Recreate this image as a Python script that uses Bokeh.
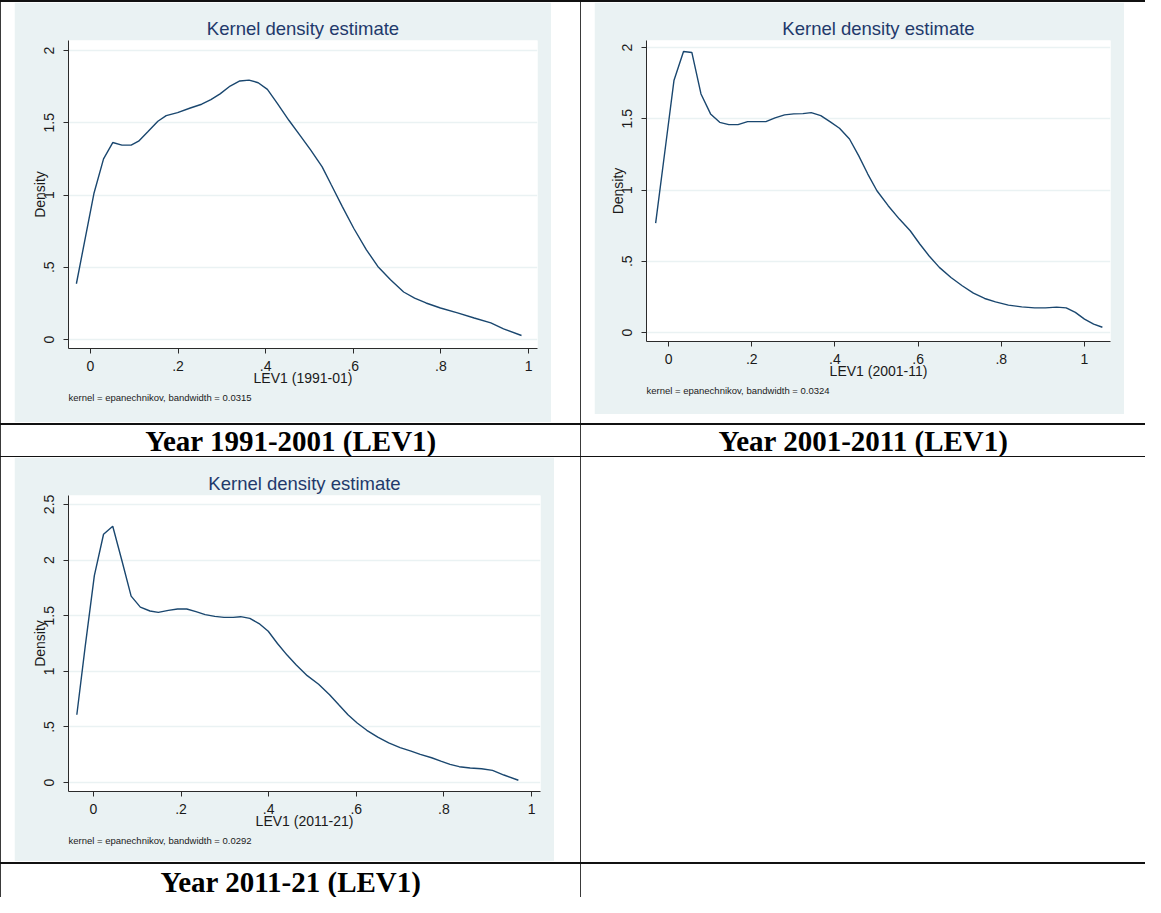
from bokeh.plotting import figure
from bokeh.layouts import row, column
from bokeh.models import Range1d, FixedTicker, CustomJSTickFormatter, Title, Spacer
from bokeh.core.properties import value
from bokeh.embed import file_html
from bokeh.resources import INLINE

# ---------------- data ----------------
x_ticks = [0, 0.2, 0.4, 0.6, 0.8, 1]
y_ticks_a = [0, 0.5, 1, 1.5, 2]
y_ticks_b = [0, 0.5, 1, 1.5, 2, 2.5]

lev_9101_x = [-0.032, 0.008, 0.030, 0.051, 0.072, 0.093, 0.110, 0.131, 0.154, 0.173, 0.199,
              0.228, 0.254, 0.275, 0.296, 0.319, 0.341, 0.362, 0.383, 0.404, 0.427, 0.453,
              0.478, 0.503, 0.529, 0.550, 0.575, 0.601, 0.630, 0.656, 0.685, 0.715, 0.740,
              0.766, 0.799, 0.838, 0.876, 0.914, 0.943, 0.984]
lev_9101_y = [0.386, 1.010, 1.250, 1.363, 1.345, 1.345, 1.372, 1.437, 1.510, 1.549, 1.570,
              1.602, 1.628, 1.660, 1.700, 1.754, 1.789, 1.795, 1.777, 1.731, 1.632, 1.517,
              1.414, 1.310, 1.195, 1.069, 0.920, 0.770, 0.621, 0.506, 0.414, 0.329, 0.287,
              0.253, 0.218, 0.184, 0.149, 0.115, 0.074, 0.028]

lev_0111_x = [-0.031, -0.006, 0.013, 0.036, 0.056, 0.078, 0.101, 0.123, 0.145, 0.167, 0.190,
              0.212, 0.234, 0.256, 0.279, 0.301, 0.323, 0.343, 0.366, 0.388, 0.411, 0.435,
              0.457, 0.479, 0.501, 0.528, 0.555, 0.581, 0.604, 0.626, 0.651, 0.679, 0.706,
              0.733, 0.760, 0.786, 0.817, 0.849, 0.880, 0.906, 0.933, 0.956, 0.978, 1.000,
              1.022, 1.043]
lev_0111_y = [0.768, 1.335, 1.768, 1.972, 1.965, 1.674, 1.534, 1.475, 1.459, 1.459, 1.480,
              1.480, 1.480, 1.506, 1.527, 1.534, 1.536, 1.543, 1.522, 1.480, 1.433, 1.358,
              1.241, 1.112, 0.995, 0.890, 0.796, 0.714, 0.621, 0.539, 0.457, 0.386, 0.328,
              0.276, 0.239, 0.215, 0.192, 0.180, 0.173, 0.173, 0.178, 0.173, 0.141, 0.094,
              0.059, 0.037]

lev_1121_x = [-0.038, -0.019, 0.002, 0.023, 0.044, 0.065, 0.086, 0.107, 0.129, 0.148, 0.171,
              0.192, 0.213, 0.234, 0.255, 0.277, 0.298, 0.319, 0.336, 0.357, 0.378, 0.399,
              0.420, 0.442, 0.463, 0.488, 0.514, 0.539, 0.560, 0.581, 0.602, 0.624, 0.649,
              0.674, 0.700, 0.725, 0.746, 0.772, 0.793, 0.814, 0.835, 0.860, 0.886, 0.911,
              0.937, 0.970]
lev_1121_y = [0.610, 1.220, 1.860, 2.232, 2.304, 1.994, 1.676, 1.577, 1.542, 1.530, 1.548,
              1.560, 1.560, 1.536, 1.509, 1.494, 1.485, 1.485, 1.491, 1.476, 1.429, 1.360,
              1.250, 1.146, 1.057, 0.961, 0.884, 0.789, 0.699, 0.610, 0.536, 0.470, 0.408,
              0.357, 0.315, 0.283, 0.253, 0.223, 0.193, 0.164, 0.143, 0.131, 0.125, 0.110,
              0.068, 0.021]

x_labels = ["LEV1 (1991-01)", "LEV1 (2001-11)", "LEV1 (2011-21)"]
notes = ["kernel = epanechnikov, bandwidth = 0.0315",
         "kernel = epanechnikov, bandwidth = 0.0324",
         "kernel = epanechnikov, bandwidth = 0.0292"]
captions = ["Year 1991-2001 (LEV1)", "Year 2001-2011 (LEV1)", "Year 2011-21 (LEV1)"]
chart_title = "Kernel density estimate"

# ---------------- style ----------------
PANEL = "#EAF2F3"
LINE = "#1A476F"
TITLE_C = "#22396B"
AXIS_C = "#2b2b2b"
SANS = "Liberation Sans"
SERIF = "Liberation Serif"
BORDER = "#111111"
VBORDER = "#3a3a3a"

fmt = CustomJSTickFormatter(code="""
    var s = String(Math.round(tick*10)/10);
    return s.replace(/^0\\./, '.');
""")


def kd_panel(xs, ys, xr, yr, yticks, xlabel, note, w, h, mb):
    p = figure(width=w, height=h, x_range=Range1d(*xr), y_range=Range1d(*yr),
               toolbar_location=None, output_backend="svg",
               min_border_left=mb[0], min_border_right=mb[1],
               min_border_top=mb[2], min_border_bottom=mb[3],
               border_fill_color=PANEL, background_fill_color="white",
               outline_line_color=None, margin=0)
    p.title.text = chart_title
    p.title.align = "center"
    p.title.text_font = SANS
    p.title.text_font_size = "18.5px"
    p.title.text_font_style = "normal"
    p.title.text_color = TITLE_C
    p.title.standoff = 4

    p.line(xs, ys, line_color=LINE, line_width=1.4)

    p.xgrid.visible = False
    p.ygrid.grid_line_color = PANEL
    p.ygrid.grid_line_width = 1.5
    p.ygrid.ticker = FixedTicker(ticks=yticks)

    for ax in (p.xaxis[0], p.yaxis[0]):
        ax.axis_line_color = AXIS_C
        ax.major_tick_line_color = AXIS_C
        ax.major_tick_out = 5
        ax.major_tick_in = 0
        ax.minor_tick_line_color = None
        ax.major_label_text_font = SANS
        ax.major_label_text_font_size = "14px"
        ax.major_label_text_color = "#1a1a1a"
        ax.axis_label_text_font = SANS
        ax.axis_label_text_font_size = "14px"
        ax.axis_label_text_font_style = "normal"
        ax.axis_label_text_color = "#1a1a1a"
        ax.formatter = fmt

    p.xaxis.ticker = FixedTicker(ticks=x_ticks)
    p.yaxis.ticker = FixedTicker(ticks=yticks)
    p.xaxis.axis_label = xlabel
    p.xaxis.major_label_standoff = 7
    p.xaxis.axis_label_standoff = -4
    p.yaxis.axis_label = "Density"
    p.yaxis.major_label_orientation = "vertical"
    p.yaxis.major_label_standoff = 9
    p.yaxis.axis_label_standoff = -6

    p.add_layout(Title(text=note, align="left", text_font=SANS, text_font_size="9.5px",
                       text_font_style="normal", text_color="#1a1a1a", standoff=3), "below")
    return p


def caption(text, w, h, yc):
    p = figure(width=w, height=h, x_range=Range1d(0, 1), y_range=Range1d(0, 1),
               toolbar_location=None, output_backend="svg", min_border=0,
               x_axis_type=None, y_axis_type=None, outline_line_color=None,
               border_fill_color="white", background_fill_color="white", margin=0)
    p.grid.visible = False
    p.text(x=[0.5], y=[yc], text=[text], text_align="center", text_baseline="middle",
           text_font=value(SERIF), text_font_style="bold", text_font_size="29px",
           text_color="black")
    return p


def blk(w, h, color):
    return Spacer(width=w, height=h, margin=0, styles={"background-color": color})


def gap(w, h):
    return Spacer(width=w, height=h, margin=0)


p1 = kd_panel(lev_9101_x, lev_9101_y, (-0.050, 1.0205), (-0.062, 2.069), y_ticks_a,
              x_labels[0], notes[0], 537, 420, (54, 14, 38, 74))
p2 = kd_panel(lev_0111_x, lev_0111_y, (-0.053, 1.0625), (-0.063, 2.049), y_ticks_a,
              x_labels[1], notes[1], 530, 412, (52, 14, 38, 73))
p3 = kd_panel(lev_1121_x, lev_1121_y, (-0.057, 1.0205), (-0.080, 2.580), y_ticks_b,
              x_labels[2], notes[2], 540, 404, (54, 14, 38, 70))

W = 1145
r1 = row(blk(1, 421, VBORDER), gap(13, 421), column(p1, gap(537, 1), spacing=0), gap(29, 421),
         blk(1, 421, VBORDER), gap(13, 421), column(p2, gap(530, 9), spacing=0), gap(21, 421),
         spacing=0)
r2 = row(blk(1, 31, VBORDER), caption(captions[0], 579, 31, 0.5), blk(1, 31, VBORDER),
         caption(captions[1], 564, 31, 0.5), spacing=0)
r3 = row(blk(1, 405, VBORDER), gap(13, 405), column(p3, gap(540, 1), spacing=0), gap(26, 405),
         blk(1, 405, VBORDER), gap(564, 405), spacing=0)
r4 = row(blk(1, 33, VBORDER), caption(captions[2], 579, 33, 0.47), blk(1, 33, VBORDER),
         gap(564, 33), spacing=0)

layout = column(blk(W, 2, BORDER), r1, blk(W, 2, BORDER), r2, blk(W, 1, BORDER), r3,
                blk(W, 2, BORDER), r4, spacing=0)

open("out.html", "w").write(file_html(layout, INLINE))
